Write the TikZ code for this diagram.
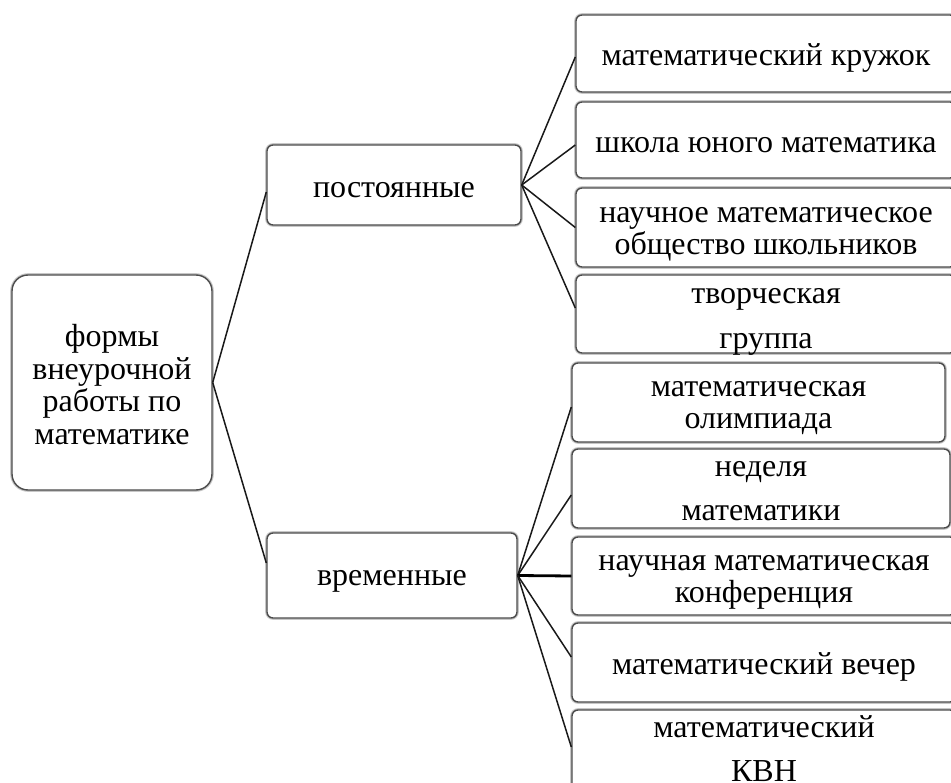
\documentclass[tikz,border=0pt]{standalone}
\usepackage{fontspec}
\setmainfont{Liberation Serif}
\begin{document}
\begin{tikzpicture}[x=1pt,y=-1pt,
  box/.style={draw=black!70, line width=1.4pt, rounded corners=6pt, fill=white,
    preaction={draw=black!22, line width=3.6pt}, inner sep=0pt},
  txt/.style={inner sep=0pt, align=center, font=\fontsize{32}{32}\selectfont},
  conn/.style={draw=black!90, line width=1.5pt}]
\useasboundingbox (0,0) rectangle (951,783);
\clip (0,0) rectangle (951,783);
\fill[white] (0,0) rectangle (951,783);
% boxes
\node[box, rounded corners=16pt, minimum width=200pt, minimum height=215pt] (root) at (112,382.5) {};
\node[box, minimum width=254pt, minimum height=80pt] (post) at (394,185) {};
\node[box, minimum width=250pt, minimum height=85pt] (vrem) at (392,575.5) {};
\node[box, minimum width=380pt, minimum height=77pt] (b1) at (766,53.5) {};
\node[box, minimum width=380pt, minimum height=76pt] (b2) at (766,140) {};
\node[box, minimum width=380pt, minimum height=79pt] (b3) at (766,227.5) {};
\node[box, minimum width=380pt, minimum height=78pt] (b4) at (766,314) {};
\node[box, minimum width=373pt, minimum height=79pt] (b5) at (758.5,402.5) {};
\node[box, minimum width=378pt, minimum height=79pt] (b6) at (761,488.5) {};
\node[box, minimum width=384pt, minimum height=78pt] (b7) at (764,576) {};
\node[box, minimum width=384pt, minimum height=79pt] (b8) at (764,662.5) {};
\node[box, minimum width=384pt, minimum height=80pt] (b9) at (764,750) {};
% texts
\node[txt, font=\fontsize{32}{32.5}\selectfont] (troot) at ([yshift=-2pt]root.center) {формы\\внеурочной\\работы по\\математике};
\node[txt] (tpost) at ([yshift=-5pt]post.center) {постоянные};
\node[txt] (tvrem) at ([yshift=-6pt]vrem.center) {временные};
\node[txt] (t1) at ([yshift=-5pt]b1.center) {математический кружок};
\node[txt] (t2) at ([yshift=-5pt]b2.center) {школа юного математика};
\node[txt] (t3) at ([yshift=-7pt]b3.center) {научное математическое\\общество школьников};
\node[txt] (t4) at ([yshift=-8pt]b4.center) {творческая\\[13pt]группа};
\node[txt] (t5) at ([yshift=-5.5pt]b5.center) {математическая\\олимпиада};
\node[txt] (t6) at ([yshift=-3pt]b6.center) {неделя\\[12pt]математики};
\node[txt] (t7) at ([yshift=-6pt]b7.center) {научная математическая\\конференция};
\node[txt] (t8) at ([yshift=-4pt]b8.center) {математический вечер};
\node[txt] (t9) at ([yshift=1pt]b9.center) {математический\\[12pt]КВН};
% connectors
\draw[conn] (root.east) -- ([yshift=-7pt]post.west);
\draw[conn] (root.east) -- ([yshift=12.5pt]vrem.west);
\draw[conn] (post.east) -- ([yshift=-3.5pt]b1.west);
\draw[conn] (post.east) -- ([yshift=-5pt]b2.west);
\draw[conn] (post.east) -- (b3.west);
\draw[conn] (post.east) -- ([yshift=6pt]b4.west);
\draw[conn] (vrem.east) -- ([yshift=-4.5pt]b5.west);
\draw[conn] (vrem.east) -- ([yshift=-6.5pt]b6.west);
\draw[conn, draw=black, line width=2.8pt] (vrem.east) -- (b7.west);
\draw[conn] (vrem.east) -- ([yshift=5.5pt]b8.west);
\draw[conn] (vrem.east) -- ([yshift=3pt]b9.west);
\end{tikzpicture}
\end{document}
